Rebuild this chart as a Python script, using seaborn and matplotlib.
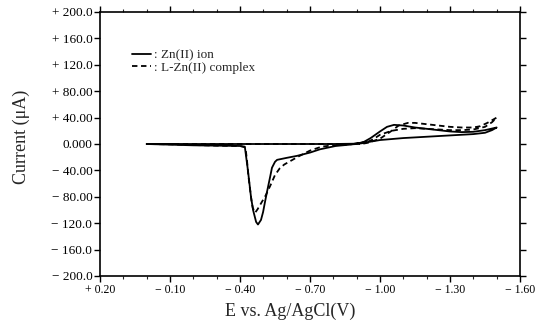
import matplotlib
matplotlib.use("Agg")
import matplotlib.pyplot as plt
import seaborn as sns
import pandas as pd
from matplotlib.ticker import FixedLocator, MultipleLocator

sns.set_theme(style="ticks")
plt.rcParams['font.family'] = ['Liberation Serif', 'DejaVu Serif']

# ---- data ----
zn_E = [0.00, -0.20, -0.40, -0.60, -0.80, -0.90, -0.93, -0.96, -1.00, -1.03, -1.06,
        -1.10, -1.15, -1.20, -1.25, -1.30, -1.35, -1.40, -1.45, -1.50,
        -1.48, -1.45, -1.40, -1.35, -1.30, -1.20, -1.10, -1.00, -0.95, -0.90,
        -0.87, -0.81, -0.743, -0.70, -0.644, -0.60, -0.559, -0.55, -0.537, -0.529,
        -0.516, -0.507, -0.499, -0.49, -0.477, -0.469, -0.456, -0.447, -0.434,
        -0.421, -0.40, -0.30, -0.20, -0.10, 0.00]
zn_I = [0, 0, 0, 0, 0, 0.5, 3, 9, 19, 26, 29,
        28, 25, 23, 21, 19, 18, 18.5, 21, 25,
        21, 17, 15, 14, 13, 11, 9, 6, 3, 1,
        -1, -3, -8, -13, -18, -21, -24, -27, -36, -50,
        -72, -88, -103, -115, -122, -118, -100, -80, -40,
        -5, -3, -2.5, -2, -1, 0]

lzn_E = [0.00, -0.20, -0.40, -0.60, -0.80, -0.92, -0.95, -1.00, -1.05, -1.08,
         -1.12, -1.15, -1.20, -1.25, -1.30, -1.35, -1.40, -1.43, -1.46, -1.50,
         -1.48, -1.45, -1.40, -1.35, -1.30, -1.25, -1.20, -1.15, -1.10, -1.05,
         -1.00, -0.97, -0.94, -0.90, -0.86, -0.80, -0.75, -0.70, -0.65, -0.62,
         -0.59, -0.57, -0.55, -0.53, -0.51, -0.49, -0.475, -0.465, -0.455, -0.45,
         -0.44, -0.435, -0.43, -0.425, -0.42, -0.40, -0.30, -0.20, -0.10, 0.00]
lzn_I = [0, 0, 0, 0, 0, 0, 2, 8, 20, 28,
         32, 32, 30, 28, 26, 25, 25, 27, 32, 40,
         33, 26, 22, 21, 21, 22, 23, 24, 23, 20,
         14, 7, 2, 0, -1, -2, -4, -10, -19, -25,
         -31, -37, -47, -63, -78, -90, -99, -104, -97, -88,
         -60, -45, -25, -10, -4, -3, -2.5, -1.5, -0.5, 0]

series_names = ["Zn(II) ion", "L-Zn(II) complex"]

x_ticks = [0.20, -0.10, -0.40, -0.70, -1.00, -1.30, -1.60]
x_tick_labels = ["+ 0.20", "\u2212 0.10", "\u2212 0.40", "\u2212 0.70",
                 "\u2212 1.00", "\u2212 1.30", "\u2212 1.60"]
y_ticks = [-200, -160, -120, -80, -40, 0, 40, 80, 120, 160, 200]
y_tick_labels = ["\u2212 200.0", "\u2212 160.0", "\u2212 120.0", "\u2212 80.00",
                 "\u2212 40.00", "0.000", "+ 40.00", "+ 80.00", "+ 120.0",
                 "+ 160.0", "+ 200.0"]

df_zn = pd.DataFrame({"E": zn_E, "I": zn_I})
df_lzn = pd.DataFrame({"E": lzn_E, "I": lzn_I})

fig = plt.figure(figsize=(5.37, 3.25), dpi=100)
ax = fig.add_axes([100/537, 1 - 276/325, 420/537, 264/325])

sns.lineplot(data=df_zn, x="E", y="I", sort=False, estimator=None, ax=ax,
             color="black", lw=1.3, label=": " + series_names[0])
sns.lineplot(data=df_lzn, x="E", y="I", sort=False, estimator=None, ax=ax,
             color="black", lw=1.3, label=": " + series_names[1])
ax.lines[1].set_linestyle((0, (3, 2)))

ax.set_xlim(0.20, -1.60)
ax.set_ylim(-200, 200)
ax.xaxis.set_major_locator(FixedLocator(x_ticks))
ax.set_xticklabels(x_tick_labels)
ax.xaxis.set_minor_locator(MultipleLocator(0.1))
ax.yaxis.set_major_locator(FixedLocator(y_ticks))
ax.set_yticklabels(y_tick_labels)

ax.tick_params(axis="x", which="major", direction="out", length=4, width=1,
               top=True, labelsize=8.5, pad=2, colors="black")
ax.tick_params(axis="x", which="minor", direction="out", length=2.5, width=0.8,
               top=True)
ax.tick_params(axis="y", which="major", direction="out", length=4, width=1,
               right=True, labelsize=9.5, pad=1.5, colors="black")
for s in ax.spines.values():
    s.set_visible(True)
    s.set_linewidth(1.2)
    s.set_color("black")

ax.set_xlabel("E vs. Ag/AgCl(V)", fontsize=13)
ax.set_ylabel("Current (\u03bcA)", fontsize=13)
ax.xaxis.set_label_coords(0.452, -0.10)
ax.yaxis.set_label_coords(-0.167, 0.527)

leg = ax.legend(loc="upper left", bbox_to_anchor=(0.075, 0.86), frameon=False,
                fontsize=9.5, handlelength=1.5, handletextpad=0.2,
                labelspacing=0.05, borderpad=0, borderaxespad=0)

fig.savefig("out.png", dpi=100)
